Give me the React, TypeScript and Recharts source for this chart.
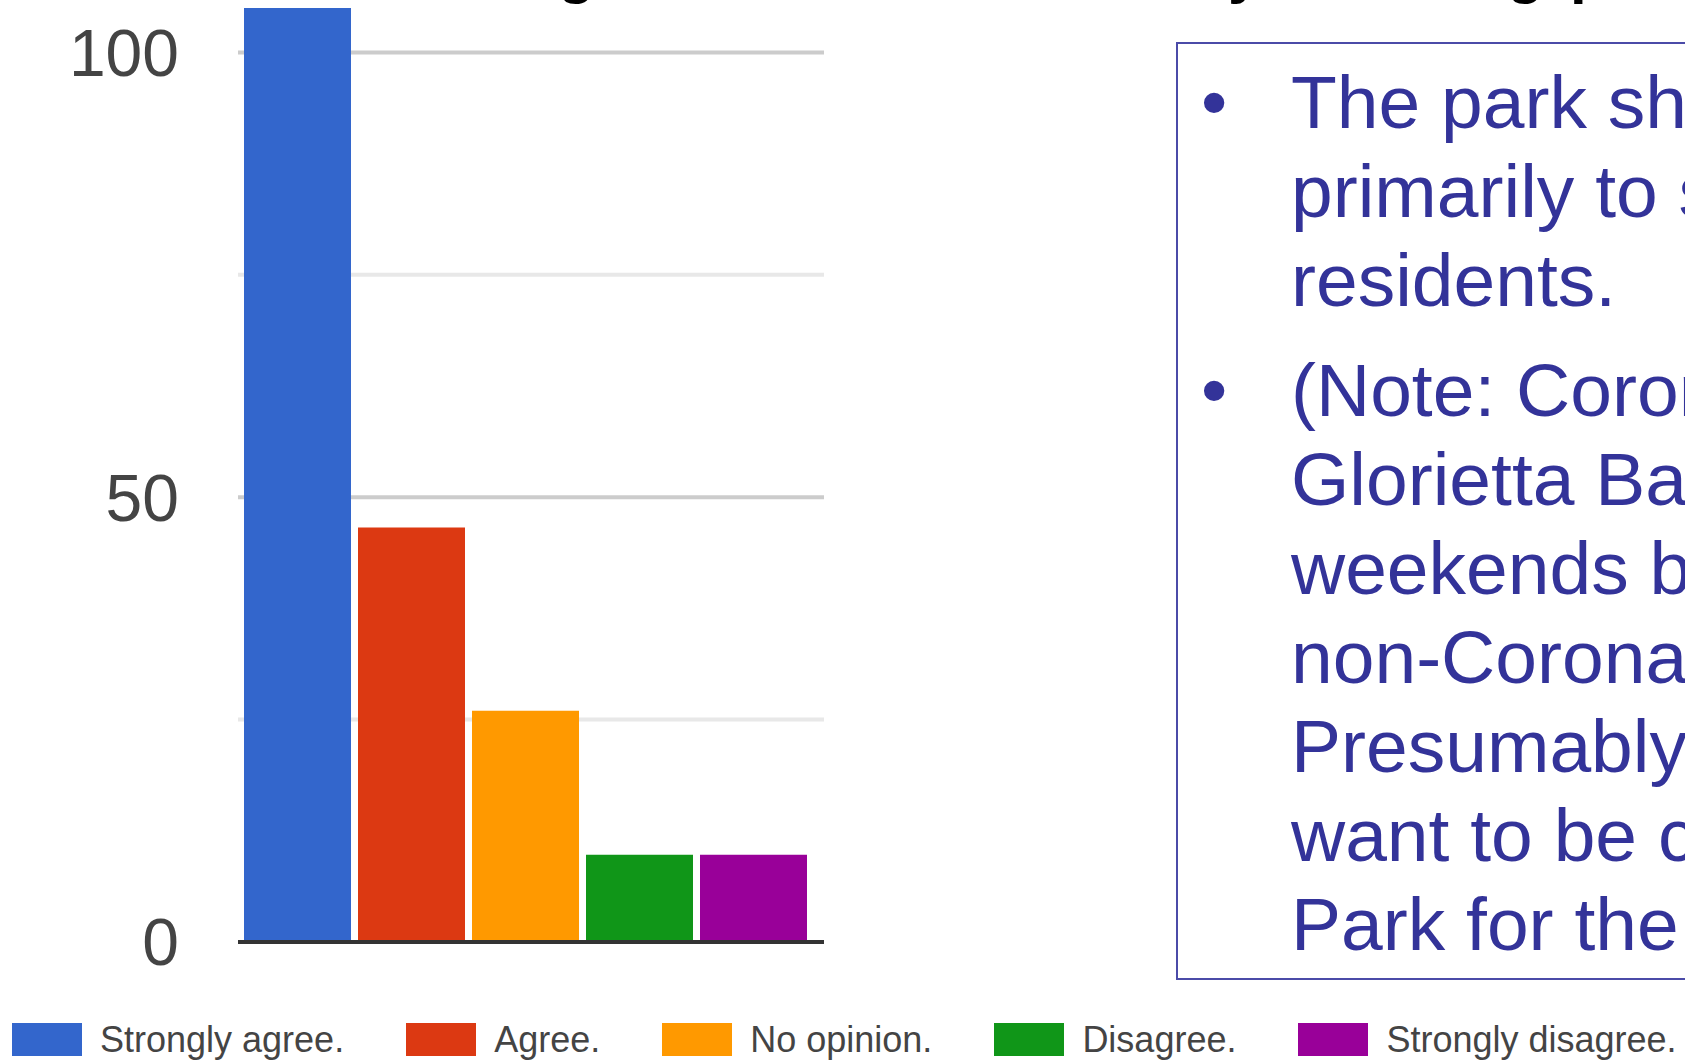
import { BarChart, Bar, XAxis, YAxis, CartesianGrid, Legend } from 'recharts';

// survey answers, one series per answer
const seriesKeys = ['stronglyAgree', 'agree', 'noOpinion', 'disagree', 'stronglyDisagree'];
const seriesNames = ['Strongly agree.', 'Agree.', 'No opinion.', 'Disagree.', 'Strongly disagree.'];
const responses = [105, 46.6, 26, 9.8, 9.8];
const seriesColors = ['#3366cc', '#dc3912', '#ff9900', '#109618', '#990099'];

const yTicks = [0, 50, 100];
const majorGrid = [50, 100];
const minorGrid = [25, 75];

const noteParagraphs = [
  ['The park should be designed', 'primarily to serve Coronado', 'residents.'],
  [
    '(Note: Coronado residents avoid',
    'Glorietta Bay Park on',
    'weekends because of',
    'non-Coronado visitors.',
    'Presumably residents',
    'want to be considered',
    'Park for the community.)',
  ],
];

const FONT = '"Liberation Sans", Arial, sans-serif';

const chartData = [
  {
    name: '',
    ...Object.fromEntries(seriesKeys.map((k, i) => [k, responses[i]])),
  },
];

// bits of the slide title that poke in at the top edge
const titleBits = [
  { ch: 'g', left: 558 },
  { ch: 'y', left: 1228 },
  { ch: 'g', left: 1507 },
  { ch: 'p', left: 1570 },
];

const LegendContent = ({ payload }: any) => {
  const items = [...(payload ?? [])].sort(
    (a: any, b: any) => seriesNames.indexOf(a.value) - seriesNames.indexOf(b.value),
  );
  return (
    <div style={{ display: 'flex', alignItems: 'center', paddingLeft: 12 }}>
      {items.map((entry: any) => (
        <div key={entry.value} style={{ display: 'flex', alignItems: 'center', marginRight: 62 }}>
          <span
            style={{
              display: 'inline-block',
              width: 70,
              height: 33,
              background: entry.color,
              marginRight: 18,
            }}
          />
          <span
            style={{
              fontFamily: FONT,
              fontSize: 36,
              lineHeight: '41px',
              color: '#444444',
              whiteSpace: 'nowrap',
            }}
          >
            {entry.value}
          </span>
        </div>
      ))}
    </div>
  );
};

const App = () => {
  return (
    <div
      style={{
        position: 'absolute',
        left: 0,
        top: 0,
        width: 1685,
        height: 1060,
        overflow: 'hidden',
        background: '#ffffff',
        fontFamily: FONT,
      }}
    >
      {titleBits.map((b, i) => (
        <span
          key={i}
          style={{
            position: 'absolute',
            left: b.left,
            top: -58,
            fontSize: 60,
            lineHeight: '60px',
            fontWeight: 'bold',
            color: '#000000',
          }}
        >
          {b.ch}
        </span>
      ))}

      <BarChart
        width={1685}
        height={1060}
        data={chartData}
        margin={{ top: 0, right: 861, bottom: 116, left: 0 }}
        barSize={107}
        barGap={7}
      >
        <CartesianGrid
          vertical={false}
          horizontalValues={minorGrid}
          stroke="#e8e8e8"
          strokeWidth={4}
        />
        <CartesianGrid
          vertical={false}
          horizontalValues={majorGrid}
          stroke="#cccccc"
          strokeWidth={4}
        />
        <XAxis
          dataKey="name"
          tick={false}
          tickLine={false}
          axisLine={{ stroke: '#333333', strokeWidth: 4 }}
          height={2}
          padding={{ left: 0, right: 12 }}
        />
        <YAxis
          width={238}
          domain={[0, 105.9]}
          allowDataOverflow
          ticks={yTicks}
          interval={0}
          axisLine={false}
          tickLine={false}
          tickSize={0}
          tickMargin={59}
          tick={{ fill: '#444444', fontSize: 66, fontFamily: FONT }}
        />
        {seriesKeys.map((k, i) => (
          <Bar
            key={k}
            dataKey={k}
            name={seriesNames[i]}
            fill={seriesColors[i]}
            isAnimationActive={false}
          />
        ))}
        <Legend
          layout="horizontal"
          verticalAlign="middle"
          align="center"
          wrapperStyle={{ top: 1019, left: 0, width: 1685 }}
          content={LegendContent}
        />
      </BarChart>

      {/* note box on the right */}
      <div
        style={{
          position: 'absolute',
          left: 1176,
          top: 42,
          width: 700,
          height: 938,
          border: '2px solid #4b4ba8',
          boxSizing: 'border-box',
        }}
      />
      {noteParagraphs.map((lines, p) => (
        <div
          key={p}
          style={{
            position: 'absolute',
            left: 1291,
            top: p === 0 ? 58 : 346,
            fontSize: 75,
            lineHeight: '89px',
            color: '#333399',
            whiteSpace: 'nowrap',
          }}
        >
          <span style={{ position: 'absolute', left: -90, top: 0 }}>•</span>
          {lines.map((line, j) => (
            <div key={j}>{line}</div>
          ))}
        </div>
      ))}
    </div>
  );
};

export default App;
